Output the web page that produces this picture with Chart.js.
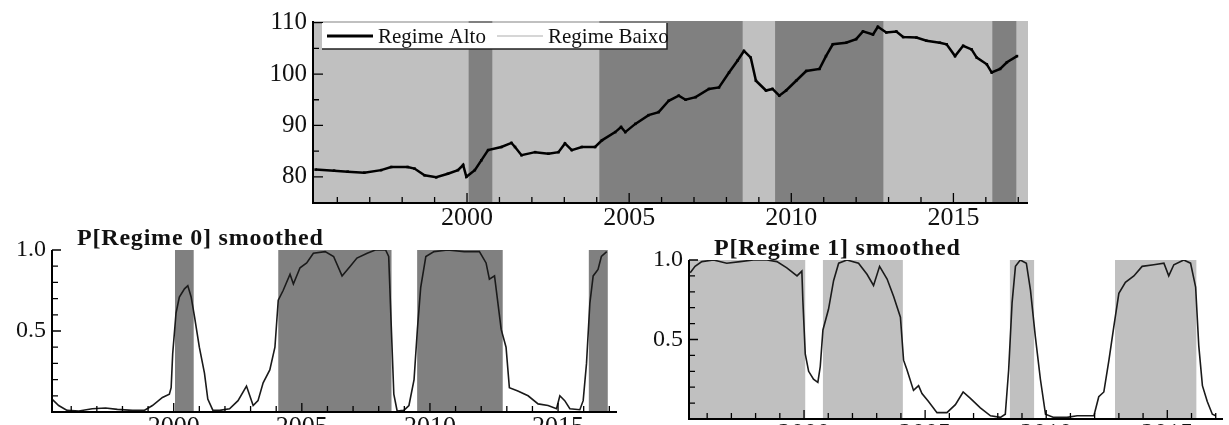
<!DOCTYPE html>
<html>
<head>
<meta charset="utf-8">
<script src="https://cdn.jsdelivr.net/npm/chart.js@4.4.0/dist/chart.umd.min.js"></script>
<style>
html, body { margin: 0; padding: 0; background: #fff; overflow: hidden; width: 1229px; height: 425px; }
.box { position: absolute; }
</style>
</head>
<body>
<div class="box" style="left:250px;top:0;width:790px;height:250px"><canvas id="topChart"></canvas></div>
<div class="box" style="left:0;top:210px;width:640px;height:250px"><canvas id="p0Chart"></canvas></div>
<div class="box" style="left:620px;top:215px;width:609px;height:250px"><canvas id="p1Chart"></canvas></div>
<script>
// Data
const topYears = [1995.33,1995.9,1996.32,1996.83,1997.35,1997.66,1998.17,1998.38,1998.69,1999.05,1999.41,1999.72,1999.88,1999.98,2000.24,2000.44,2000.65,2001.06,2001.37,2001.48,2001.68,2002.1,2002.51,2002.82,2003.02,2003.23,2003.54,2003.95,2004.16,2004.57,2004.75,2004.88,2005.19,2005.6,2005.91,2006.22,2006.53,2006.74,2007.05,2007.46,2007.77,2008.08,2008.34,2008.54,2008.75,2008.91,2009.22,2009.42,2009.63,2009.84,2010.15,2010.46,2010.87,2011.07,2011.28,2011.69,2012.0,2012.21,2012.52,2012.67,2012.93,2013.24,2013.45,2013.86,2014.17,2014.58,2014.79,2015.05,2015.3,2015.56,2015.72,2016.03,2016.18,2016.44,2016.65,2016.96];
const topValues = [81.4,81.2,81.0,80.8,81.3,81.9,81.9,81.6,80.3,79.9,80.6,81.3,82.3,80.0,81.3,83.2,85.2,85.8,86.6,85.8,84.2,84.8,84.5,84.8,86.5,85.2,85.8,85.8,87.1,88.7,89.7,88.7,90.3,92.0,92.6,94.8,95.8,95.0,95.5,97.1,97.4,100.3,102.6,104.5,103.2,98.7,96.8,97.1,95.8,96.8,98.7,100.6,101.0,103.5,105.8,106.1,106.8,108.3,107.7,109.2,108.1,108.3,107.2,107.1,106.5,106.1,105.8,103.5,105.5,104.8,103.2,101.9,100.3,101.0,102.3,103.5];

const p0Years = [1995.25,1995.51,1995.84,1996.3,1996.82,1997.34,1997.8,1998.39,1998.85,1999.17,1999.56,1999.83,1999.9,1999.96,2000.09,2000.22,2000.42,2000.55,2000.68,2000.81,2001.0,2001.2,2001.33,2001.53,2001.79,2002.18,2002.51,2002.84,2002.97,2003.1,2003.29,2003.49,2003.75,2003.95,2004.08,2004.27,2004.54,2004.67,2004.93,2005.19,2005.45,2005.91,2006.24,2006.57,2006.89,2007.15,2007.55,2007.87,2008.27,2008.39,2008.49,2008.59,2008.72,2008.98,2009.18,2009.38,2009.51,2009.64,2009.84,2010.16,2010.69,2011.34,2011.93,2012.19,2012.32,2012.52,2012.78,2012.97,2013.1,2013.43,2013.83,2014.22,2014.61,2014.94,2015.07,2015.26,2015.46,2015.85,2015.98,2016.11,2016.24,2016.37,2016.56,2016.69,2016.9];
const p0Values = [0.08,0.04,0.01,0.006,0.02,0.025,0.016,0.01,0.01,0.04,0.09,0.11,0.15,0.36,0.61,0.71,0.76,0.78,0.71,0.59,0.40,0.24,0.08,0.01,0.01,0.02,0.07,0.16,0.10,0.04,0.07,0.18,0.26,0.40,0.69,0.75,0.85,0.79,0.89,0.92,0.98,0.99,0.96,0.84,0.90,0.95,0.98,1.0,1.0,0.96,0.53,0.11,0.006,0.01,0.04,0.20,0.51,0.77,0.96,0.99,1.0,0.99,0.99,0.92,0.82,0.84,0.51,0.40,0.15,0.13,0.10,0.05,0.04,0.02,0.10,0.07,0.02,0.014,0.07,0.30,0.67,0.84,0.88,0.96,0.99];

const p1Years = [1995.3,1995.5,1995.78,1996.26,1996.81,1997.36,1997.91,1998.47,1998.88,1999.29,1999.71,1999.91,1999.95,2000.05,2000.19,2000.39,2000.57,2000.67,2000.78,2001.01,2001.22,2001.43,2001.77,2002.25,2002.6,2002.87,2003.12,2003.43,2003.7,2003.98,2004.11,2004.25,2004.52,2004.73,2004.87,2005.14,2005.49,2005.9,2006.25,2006.57,2006.87,2007.28,2007.7,2008.11,2008.31,2008.45,2008.59,2008.73,2008.93,2009.18,2009.35,2009.55,2009.76,2009.97,2010.31,2010.86,2011.28,2011.69,2011.97,2012.17,2012.38,2012.59,2012.79,2013.0,2013.27,2013.62,2013.96,2014.44,2014.86,2015.06,2015.27,2015.68,2015.96,2016.17,2016.3,2016.45,2016.65,2016.86,2017.0];
const p1Values = [0.92,0.96,0.99,1.0,0.98,0.99,1.0,1.0,0.99,0.95,0.90,0.93,0.75,0.41,0.30,0.25,0.23,0.33,0.56,0.69,0.87,0.98,1.0,0.98,0.91,0.84,0.96,0.88,0.77,0.64,0.37,0.31,0.18,0.21,0.16,0.11,0.04,0.04,0.09,0.17,0.13,0.07,0.02,0.01,0.03,0.31,0.73,0.96,1.0,0.98,0.81,0.52,0.25,0.03,0.01,0.01,0.02,0.02,0.02,0.14,0.17,0.37,0.58,0.79,0.86,0.90,0.96,0.97,0.98,0.90,0.97,1.0,0.98,0.83,0.46,0.21,0.11,0.03,0.02];

// regime periods (start, end year)
const regimeAlto = [[2000.05, 2000.78], [2004.08, 2008.5], [2009.5, 2012.84], [2016.2, 2016.94]];
const regimeBaixo = [[1995.25, 2000.05], [2000.78, 2004.08], [2008.5, 2009.5], [2012.84, 2016.2]];

const xMajorTicks = [2000, 2005, 2010, 2015];
const xTickLabels = ['2000', '2005', '2010', '2015'];
const xMinorTicks = [1996,1997,1998,1999,2001,2002,2003,2004,2006,2007,2008,2009,2011,2012,2013,2014,2016,2017];

const topYTicks = [80, 90, 100, 110];
const topYLabels = ['80', '90', '100', '110'];
const topYMinor = [85, 95, 105];

const probYTicks = [0.5, 1.0];
const probYLabels = ['0.5', '1.0'];
const probYMinor = [0.1, 0.2, 0.3, 0.4, 0.6, 0.7, 0.8, 0.9];

const legendLabels = ['Regime Alto', 'Regime Baixo'];

const X_MIN = 1995.25, X_MAX = 2017.3;
const SERIF = '"Liberation Serif", "Times New Roman", serif';
const LIGHT = '#c0c0c0';
const DARK = '#808080';

const toPoints = (xs, ys) => xs.map((x, i) => ({ x: x, y: ys[i] }));

// shaded regime bands behind the lines
const shadePlugin = {
    id: 'shade',
    beforeDatasetsDraw(chart, args, opts) {
        const { ctx, chartArea: a, scales: { x } } = chart;
        ctx.save();
        if (opts.background) {
            ctx.fillStyle = opts.background;
            ctx.fillRect(a.left, a.top, a.right - a.left, a.bottom - a.top);
        }
        ctx.fillStyle = opts.color;
        opts.bands.forEach(([s, e]) => {
            const x0 = Math.max(x.getPixelForValue(s), a.left);
            const x1 = Math.min(x.getPixelForValue(e), a.right);
            ctx.fillRect(x0, a.top, x1 - x0, a.bottom - a.top);
        });
        ctx.restore();
    }
};

// axis lines, inward ticks, optional title
const axesPlugin = {
    id: 'axes',
    afterDatasetsDraw(chart, args, o) {
        const { ctx, chartArea: a, scales: { x, y } } = chart;
        ctx.save();
        ctx.strokeStyle = '#000';
        ctx.lineWidth = 1.3;
        ctx.beginPath();
        xMajorTicks.forEach(v => { const p = x.getPixelForValue(v); ctx.moveTo(p, a.bottom); ctx.lineTo(p, a.bottom - o.major); });
        xMinorTicks.forEach(v => { const p = x.getPixelForValue(v); ctx.moveTo(p, a.bottom); ctx.lineTo(p, a.bottom - o.minor); });
        o.yMajor.forEach(v => { const p = y.getPixelForValue(v); ctx.moveTo(a.left, p); ctx.lineTo(a.left + o.major, p); });
        o.yMinor.forEach(v => { const p = y.getPixelForValue(v); ctx.moveTo(a.left, p); ctx.lineTo(a.left + o.minor, p); });
        ctx.stroke();

        ctx.lineWidth = 2;
        ctx.beginPath();
        ctx.moveTo(a.left, a.top);
        ctx.lineTo(a.left, a.bottom);
        ctx.lineTo(a.right, a.bottom);
        ctx.stroke();

        if (o.title) {
            ctx.font = 'bold 24px ' + SERIF;
            ctx.fillStyle = '#111';
            ctx.textBaseline = 'alphabetic';
            ctx.letterSpacing = '0.8px';
            ctx.fillText(o.title, a.left + 25, a.top - 5);
        }
        ctx.restore();
    }
};

// legend box inside the top plot
const legendPlugin = {
    id: 'boxLegend',
    afterDatasetsDraw(chart, args, o) {
        if (!o.show) return;
        const { ctx, chartArea: a } = chart;
        const bx = a.left + 9, by = a.top + 2, bw = 345, bh = 26;
        ctx.save();
        ctx.fillStyle = '#fff';
        ctx.fillRect(bx, by, bw, bh);
        ctx.strokeStyle = '#222';
        ctx.lineWidth = 1.5;
        ctx.beginPath();
        ctx.moveTo(bx + bw, by);
        ctx.lineTo(bx + bw, by + bh);
        ctx.lineTo(bx, by + bh);
        ctx.stroke();

        const my = by + bh / 2;
        ctx.lineWidth = 3;
        ctx.strokeStyle = '#000';
        ctx.beginPath(); ctx.moveTo(bx + 5, my); ctx.lineTo(bx + 51, my); ctx.stroke();
        ctx.lineWidth = 1.5;
        ctx.strokeStyle = '#c8c8c8';
        ctx.beginPath(); ctx.moveTo(bx + 175, my); ctx.lineTo(bx + 221, my); ctx.stroke();

        ctx.font = '21px ' + SERIF;
        ctx.fillStyle = '#111';
        ctx.textBaseline = 'middle';
        ctx.fillText(legendLabels[0], bx + 56, my + 1);
        ctx.fillText(legendLabels[1], bx + 226, my + 1);
        ctx.restore();
    }
};

function xScale(height) {
    return {
        type: 'linear',
        min: X_MIN,
        max: X_MAX,
        afterBuildTicks: s => { s.ticks = xMajorTicks.map(v => ({ value: v })); },
        afterFit: s => { s.height = height; },
        grid: { display: false, drawTicks: false },
        border: { display: false },
        ticks: {
            callback: (v, i) => xTickLabels[i],
            font: { family: SERIF, size: 26 },
            color: '#111',
            padding: 0,
            maxRotation: 0,
            autoSkip: false
        }
    };
}

function yScale(min, max, ticks, labels, width, size) {
    return {
        min: min,
        max: max,
        afterBuildTicks: s => { s.ticks = ticks.map(v => ({ value: v })); },
        afterFit: s => { s.width = width; },
        grid: { display: false, drawTicks: false },
        border: { display: false },
        ticks: {
            callback: (v, i) => labels[i],
            font: { family: SERIF, size: size },
            color: '#111',
            padding: 6
        }
    };
}

const basePlugins = { legend: { display: false }, tooltip: { enabled: false } };

// Top chart
new Chart(document.getElementById('topChart').getContext('2d'), {
    type: 'line',
    data: {
        datasets: [{
            label: legendLabels[0],
            data: toPoints(topYears, topValues),
            borderColor: '#000',
            borderWidth: 2.5,
            pointStyle: 'rect',
            pointRadius: 1.8,
            pointBorderWidth: 0,
            pointBackgroundColor: '#000',
            tension: 0
        }]
    },
    options: {
        animation: false,
        responsive: true,
        maintainAspectRatio: false,
        layout: { padding: { top: 20, right: 12, left: 0, bottom: 0 } },
        scales: {
            x: xScale(47),
            y: yScale(74.9, 110.33, topYTicks, topYLabels, 63, 25)
        },
        plugins: Object.assign({}, basePlugins, {
            shade: { background: LIGHT, color: DARK, bands: regimeAlto },
            axes: { yMajor: topYTicks, yMinor: topYMinor, major: 10, minor: 6 },
            boxLegend: { show: true }
        })
    },
    plugins: [shadePlugin, axesPlugin, legendPlugin]
});

// P[Regime 0]
new Chart(document.getElementById('p0Chart').getContext('2d'), {
    type: 'line',
    data: {
        datasets: [{
            data: toPoints(p0Years, p0Values),
            borderColor: '#1a1a1a',
            borderWidth: 1.6,
            pointRadius: 0,
            tension: 0
        }]
    },
    options: {
        animation: false,
        responsive: true,
        maintainAspectRatio: false,
        layout: { padding: { top: 40, right: 23, left: 0, bottom: 0 } },
        scales: {
            x: xScale(48),
            y: yScale(0, 1, probYTicks, probYLabels, 52, 24)
        },
        plugins: Object.assign({}, basePlugins, {
            shade: { color: DARK, bands: regimeAlto },
            axes: { yMajor: probYTicks, yMinor: probYMinor, major: 9, minor: 6, title: 'P[Regime 0] smoothed' },
            boxLegend: { show: false }
        })
    },
    plugins: [shadePlugin, axesPlugin]
});

// P[Regime 1]
new Chart(document.getElementById('p1Chart').getContext('2d'), {
    type: 'line',
    data: {
        datasets: [{
            data: toPoints(p1Years, p1Values),
            borderColor: '#1a1a1a',
            borderWidth: 1.6,
            pointRadius: 0,
            tension: 0
        }]
    },
    options: {
        animation: false,
        responsive: true,
        maintainAspectRatio: false,
        layout: { padding: { top: 45, right: 6, left: 0, bottom: 0 } },
        scales: {
            x: xScale(46),
            y: yScale(0, 1, probYTicks, probYLabels, 69, 24)
        },
        plugins: Object.assign({}, basePlugins, {
            shade: { color: LIGHT, bands: regimeBaixo },
            axes: { yMajor: probYTicks, yMinor: probYMinor, major: 9, minor: 6, title: 'P[Regime 1] smoothed' },
            boxLegend: { show: false }
        })
    },
    plugins: [shadePlugin, axesPlugin]
});
</script>
</body>
</html>
